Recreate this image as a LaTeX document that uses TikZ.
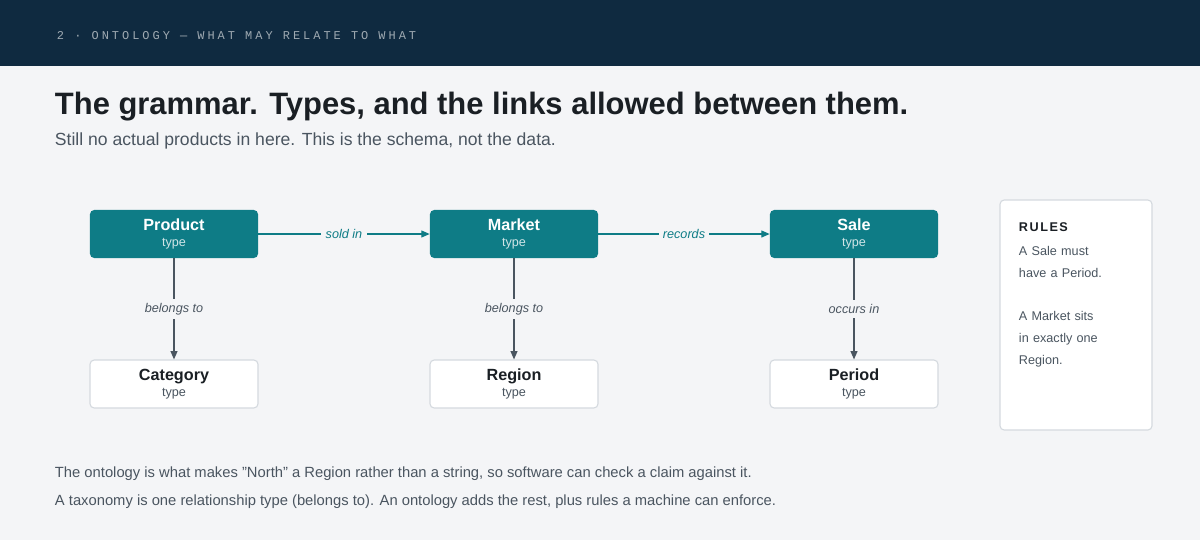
\documentclass[tikz,border=0pt]{standalone}
\usepackage{fontspec}
\setmainfont{Liberation Sans}
\newfontfamily\headfont[LetterSpace=25]{Liberation Mono}
\usetikzlibrary{positioning,arrows.meta}
\definecolor{navy}{HTML}{0F2A40}
\definecolor{teal}{HTML}{0E7C86}
\definecolor{bg}{HTML}{F4F5F7}
\definecolor{ink}{HTML}{1A1F24}
\definecolor{mute}{HTML}{4A5560}
\definecolor{edge}{HTML}{D5DADF}

\begin{document}
\begin{tikzpicture}[
    x=0.025cm, y=-0.025cm,
    tbox/.style={rectangle, rounded corners=3pt, fill=teal, text=white, minimum width=4.2cm, minimum height=1.2cm, align=center, inner sep=0pt},
    wbox/.style={rectangle, rounded corners=3pt, draw=edge, line width=0.8pt, fill=white, text=ink, minimum width=4.2cm, minimum height=1.2cm, align=center, inner sep=0pt},
    harrow/.style={-{Triangle[length=6pt,width=5pt]}, teal, line width=0.8pt},
    varrow/.style={-{Triangle[length=6pt,width=5pt]}, mute, line width=0.8pt},
    hlab/.style={fill=bg, text=teal, font=\fontsize{9}{11}\selectfont\itshape, inner sep=3pt},
    vlab/.style={fill=bg, text=mute, font=\fontsize{9}{11}\selectfont\itshape, inner sep=3pt}
]

% Canvas and header
\fill[bg] (0,0) rectangle (1200,540);
\fill[navy] (0,0) rectangle (1200,66);
\node[anchor=west, text=white!60!navy, font=\headfont\fontsize{8.5}{10}\selectfont] (head) at (52,36) {2 · ONTOLOGY — WHAT MAY RELATE TO WHAT};

% Title
\node[anchor=west, text=ink, font=\bfseries\fontsize{22}{26}\selectfont] (title) at (50,107) {The grammar. Types, and the links allowed between them.};
\node[anchor=west, text=mute, font=\fontsize{12.5}{15}\selectfont] (sub) at (50,141) {Still no actual products in here. This is the schema, not the data.};

% Type boxes
\node[tbox] (product) at (174,234) {{\bfseries\fontsize{11.5}{14}\selectfont Product}\\[-1pt]{\fontsize{9}{11}\selectfont\color{white!80!teal}type}};
\node[tbox] (market) at (514,234) {{\bfseries\fontsize{11.5}{14}\selectfont Market}\\[-1pt]{\fontsize{9}{11}\selectfont\color{white!80!teal}type}};
\node[tbox] (sale) at (854,234) {{\bfseries\fontsize{11.5}{14}\selectfont Sale}\\[-1pt]{\fontsize{9}{11}\selectfont\color{white!80!teal}type}};
\node[wbox] (category) at (174,384) {{\bfseries\fontsize{11.5}{14}\selectfont Category}\\[-1pt]{\fontsize{9}{11}\selectfont\color{mute}type}};
\node[wbox] (region) at (514,384) {{\bfseries\fontsize{11.5}{14}\selectfont Region}\\[-1pt]{\fontsize{9}{11}\selectfont\color{mute}type}};
\node[wbox] (period) at (854,384) {{\bfseries\fontsize{11.5}{14}\selectfont Period}\\[-1pt]{\fontsize{9}{11}\selectfont\color{mute}type}};

% Links
\draw[harrow] (product) -- node[hlab, pos=0.5] {sold in} (market);
\draw[harrow] (market) -- node[hlab, pos=0.5] {records} (sale);
\draw[varrow] (product) -- node[vlab] {belongs to} (category);
\draw[varrow] (market) -- node[vlab] {belongs to} (region);
\draw[varrow] (sale) -- node[vlab] {occurs in} (period);

% Rules panel
\node[rectangle, rounded corners=3pt, draw=edge, line width=0.8pt, fill=white, minimum width=3.8cm, minimum height=5.75cm] (rules) at (1076,315) {};
\node[anchor=north west, text=ink, font=\bfseries\fontsize{9}{11}\selectfont, text width=3cm, align=left] (rtitle) at (1014,218) {\addfontfeature{LetterSpace=12}RULES};
\node[anchor=north west, text=mute, font=\fontsize{9}{15.6}\selectfont, text width=3cm, align=left] (rtext) at (1014,241) {A Sale must\\have a Period.\\[15.6pt]A Market sits\\in exactly one\\Region.};

% Footer notes
\node[anchor=west, text=mute, font=\fontsize{10.5}{13}\selectfont] (note1) at (50,474) {The ontology is what makes "North" a Region rather than a string, so software can check a claim against it.};
\node[anchor=west, text=mute, font=\fontsize{10.5}{13}\selectfont] (note2) at (50,502) {A taxonomy is one relationship type (belongs to). An ontology adds the rest, plus rules a machine can enforce.};

\end{tikzpicture}
\end{document}
